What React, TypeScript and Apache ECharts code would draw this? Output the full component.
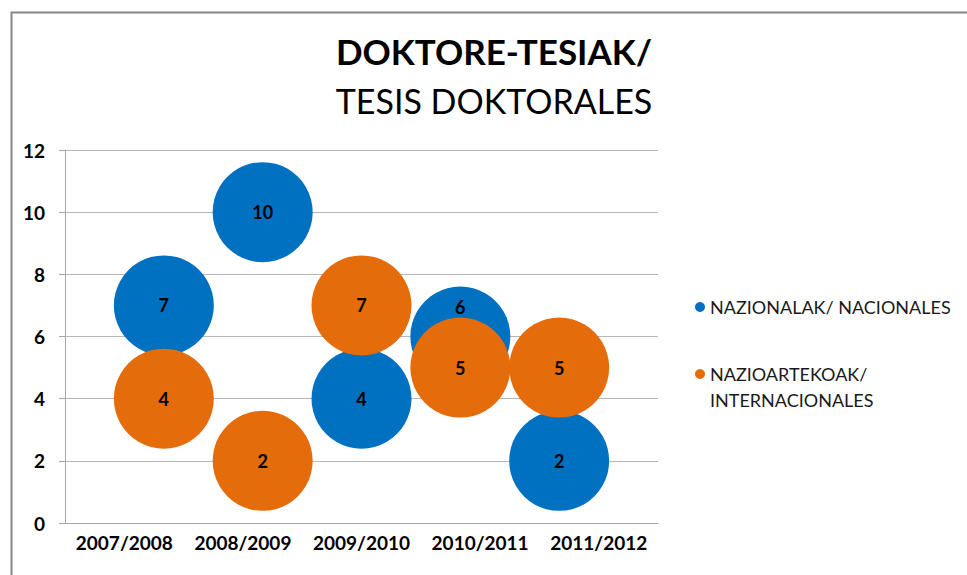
import React, { useEffect, useRef } from "react";
import * as echarts from "echarts";

const titleMain = "DOKTORE-TESIAK/";
const titleSub = "TESIS DOKTORALES";
const categories = ["2007/2008", "2008/2009", "2009/2010", "2010/2011", "2011/2012"];
const categoryPositions = [1, 2, 3, 4, 5];
const seriesNames = ["NAZIONALAK/ NACIONALES", "NAZIOARTEKOAK/\nINTERNACIONALES"];
const nacionales = [7, 10, 4, 6, 2];
const internacionales = [4, 2, 7, 5, 5];
const yTicks = { min: 0, max: 12, interval: 2 };

const FONT = "Lato, 'Open Sans', sans-serif";
const BLUE = "#0070C0";
const ORANGE = "#E46C0A";

export default function App() {
  const ref = useRef<HTMLDivElement>(null);
  useEffect(() => {
    if (!ref.current) return;
    const chart = echarts.init(ref.current, undefined, { renderer: "svg" });
    const mk = (vals: number[], liftIndex: number) =>
      vals.map((v, i) => {
        const item: any = { value: [categoryPositions[i], v] };
        if (i === liftIndex) item.label = { offset: [0, -30] };
        return item;
      });
    const bubbleLabel = {
      show: true,
      position: "inside",
      color: "#000",
      fontFamily: FONT,
      fontWeight: "bold",
      fontSize: 18,
      formatter: (p: any) => String(p.value[1]),
    };
    chart.setOption({
      animation: false,
      backgroundColor: "#fff",
      textStyle: { fontFamily: FONT },
      title: {
        text: titleMain,
        subtext: titleSub,
        left: 494,
        textAlign: "center",
        top: 31,
        padding: 0,
        itemGap: 9,
        textStyle: { fontFamily: FONT, fontSize: 35, fontWeight: "bold", color: "#000", lineHeight: 40 },
        subtextStyle: { fontFamily: FONT, fontSize: 34, fontWeight: "normal", color: "#000", lineHeight: 40 },
      },
      legend: {
        orient: "vertical",
        left: 695,
        top: 294,
        padding: 0,
        itemWidth: 10,
        itemHeight: 10,
        itemGap: 15,
        icon: "circle",
        formatter: (name: string) => (name === seriesNames[1] ? "\n" + name : name),
        textStyle: { fontFamily: FONT, fontSize: 18, color: "#1a1a1a", lineHeight: 26 },
        data: seriesNames,
      },
      graphic: [
        {
          type: "rect",
          left: 9,
          top: 10,
          shape: { width: 1000, height: 600 },
          style: { fill: "none", stroke: "#868686", lineWidth: 2 },
          silent: true,
          z: -1,
        },
      ],
      grid: { left: 65, right: 309, top: 150, bottom: 52, containLabel: false },
      xAxis: [
        {
          type: "category",
          data: categories,
          boundaryGap: true,
          axisLine: { show: true, lineStyle: { color: "#A6A6A6", width: 1 } },
          axisTick: { show: false },
          axisLabel: { interval: 0, color: "#000", fontFamily: FONT, fontSize: 19, fontWeight: "bold", margin: 10 },
          splitLine: { show: false },
        },
        {
          type: "value",
          min: 0,
          max: 6,
          show: false,
          splitLine: { show: false },
        },
      ],
      yAxis: {
        type: "value",
        min: yTicks.min,
        max: yTicks.max,
        interval: yTicks.interval,
        axisLine: { show: true, lineStyle: { color: "#A6A6A6", width: 1 } },
        axisTick: { show: true, length: 6, lineStyle: { color: "#A6A6A6" } },
        axisLabel: { color: "#000", fontFamily: FONT, fontSize: 19, fontWeight: "bold", margin: 20 },
        splitLine: { show: true, lineStyle: { color: "#B7B7B7", width: 1 } },
      },
      series: [
        {
          name: seriesNames[0],
          type: "scatter",
          xAxisIndex: 1,
          symbol: "circle",
          symbolSize: 100,
          itemStyle: { color: BLUE, opacity: 1 },
          label: bubbleLabel,
          data: mk(nacionales, 3),
        },
        {
          name: seriesNames[1],
          type: "scatter",
          xAxisIndex: 1,
          symbol: "circle",
          symbolSize: 100,
          itemStyle: { color: ORANGE, opacity: 1 },
          label: bubbleLabel,
          data: mk(internacionales, -1),
        },
      ],
    });
    return () => chart.dispose();
  }, []);
  return (
    <div
      ref={ref}
      style={{ position: "fixed", left: 0, top: 0, width: 967, height: 575, background: "#fff" }}
    />
  );
}
